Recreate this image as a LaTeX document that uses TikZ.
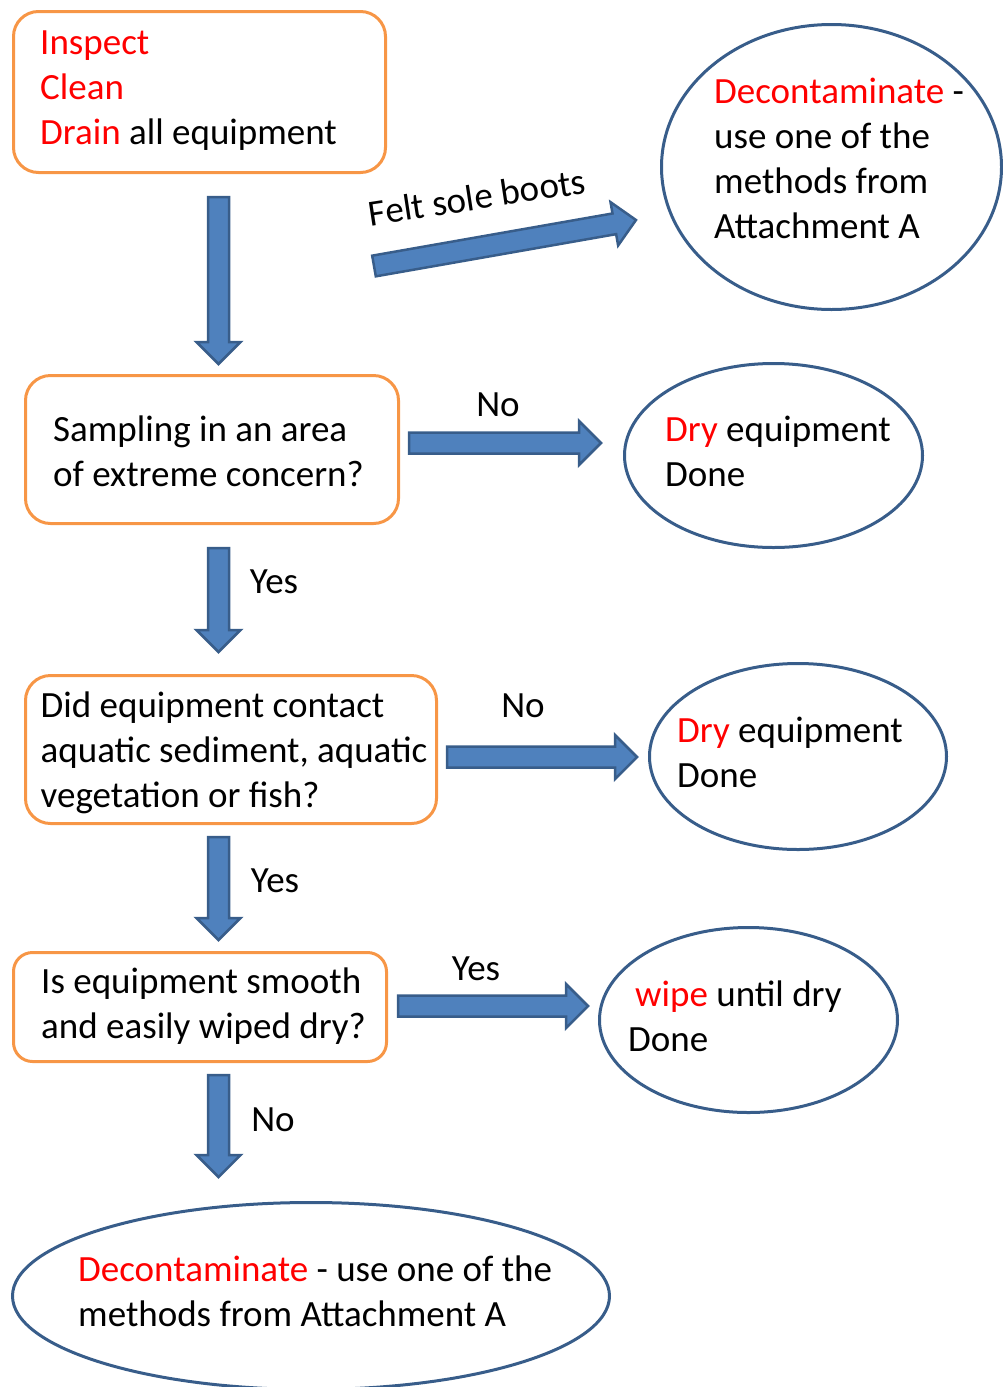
\documentclass[tikz,border=0pt]{standalone}
\usepackage{fontspec}
\setmainfont{Carlito}
\usetikzlibrary{shapes.geometric,calc}
\definecolor{boxorange}{HTML}{F79646}
\definecolor{arrowblue}{HTML}{4F81BD}
\definecolor{edgeblue}{HTML}{385D8A}
\tikzset{
  qbox/.style={draw=boxorange, line width=3pt, rounded corners=25pt, inner sep=0pt},
  oval/.style={ellipse, draw=edgeblue, line width=3pt, inner sep=0pt},
  txt/.style={anchor=base west, align=left, inner sep=0pt, font=\fontsize{37}{45}\selectfont},
  lbl/.style={anchor=base, inner sep=0pt, font=\fontsize{37}{45}\selectfont},
  barrow/.style={draw=edgeblue, fill=arrowblue, line width=2.5pt, line join=miter},
}
% block arrow: from, gap at start, to, gap at tip
\newcommand{\blockarrow}[4]{%
  \draw[barrow] let \p1=(#1), \p2=(#3), \n1={atan2(\y2-\y1,\x2-\x1)}, \n2={veclen(\x2-\x1,\y2-\y1)} in
    [shift={(\p1)}, rotate=\n1]
    (#2,-10.5) -- ({\n2-#4-22},-10.5) -- ({\n2-#4-22},-22) -- ({\n2-#4},0)
    -- ({\n2-#4-22},22) -- ({\n2-#4-22},10.5) -- (#2,10.5) -- cycle;}

\begin{document}
\begin{tikzpicture}[x=1pt,y=-1pt]
\useasboundingbox (0,0) rectangle (1002,1387);
%boxes
\node[qbox, minimum width=372pt, minimum height=161pt] (inspect) at (199.5,92) {};
\node[qbox, minimum width=373pt, minimum height=148pt] (area) at (212,449.5) {};
\node[qbox, minimum width=411pt, minimum height=148pt] (contact) at (231,749.5) {};
\node[qbox, rounded corners=19pt, minimum width=373pt, minimum height=109pt] (smooth) at (200,1007) {};
%ellipses
\node[oval, minimum width=340pt, minimum height=285pt] (decon1) at (831.5,167) {};
\node[oval, minimum width=298pt, minimum height=184pt] (dry1) at (773.5,455.5) {};
\node[oval, minimum width=297pt, minimum height=186pt] (dry2) at (798,756.5) {};
\node[oval, minimum width=298pt, minimum height=185pt] (wipe) at (748.5,1020) {};
\node[oval, minimum width=597pt, minimum height=187pt] (decon2) at (311,1296) {};
%texts (placed at the baseline of their last line)
\node[txt] (inspecttxt) at (40,144) {\textcolor{red}{Inspect}\\\textcolor{red}{Clean}\\\textcolor{red}{Drain} all equipment};
\node[txt] (areatxt) at (53,486.5) {Sampling in an area\\of extreme concern?};
\node[txt] (contacttxt) at (40.5,807) {Did equipment contact\\aquatic sediment, aquatic\\vegetation or fish?};
\node[txt] (smoothtxt) at (41,1038) {Is equipment smooth\\and easily wiped dry?};
\node[txt] (decon1txt) at (714,238) {\textcolor{red}{Decontaminate} -\\use one of the\\methods from\\Attachment A};
\node[txt] (dry1txt) at (665,486) {\textcolor{red}{Dry} equipment\\Done};
\node[txt] (dry2txt) at (677,787) {\textcolor{red}{Dry} equipment\\Done};
\node[txt] (wipetxt) at (628,1051) {\hspace*{7pt}\textcolor{red}{wipe} until dry\\Done};
\node[txt] (decon2txt) at (78,1326) {\textcolor{red}{Decontaminate} - use one of the\\methods from Attachment A};
%labels
\node[lbl, rotate=8.7] (felt) at (479,209.5) {Felt sole boots};
\node[lbl] (no1) at (498,416) {No};
\node[lbl] (yes1) at (274,593) {Yes};
\node[lbl] (no2) at (523,717) {No};
\node[lbl] (yes2) at (275,892) {Yes};
\node[lbl] (yes3) at (476,980) {Yes};
\node[lbl] (no3) at (273,1131) {No};
%arrows
\coordinate (spine) at (218.5,0);
\coordinate (boots0) at (374,266);
\coordinate (boots1) at (636,220);
\coordinate (noA) at (0,443);
\coordinate (noB) at (0,757);
\coordinate (yesC) at (0,1006);
\blockarrow{boots0}{0}{boots1}{0}
\blockarrow{inspect.south -| spine}{23}{area.north -| spine}{10}
\blockarrow{area.south -| spine}{23}{contact.north -| spine}{22}
\blockarrow{contact.south -| spine}{12}{smooth.north -| spine}{11}
\blockarrow{smooth.south -| spine}{12}{decon2.north -| spine}{24}
\blockarrow{area.east |- noA}{9}{dry1.west |- noA}{22}
\blockarrow{contact.east |- noB}{9}{dry2.west |- noB}{11}
\blockarrow{smooth.east |- yesC}{10}{wipe.west |- yesC}{10}
\end{tikzpicture}
\end{document}
